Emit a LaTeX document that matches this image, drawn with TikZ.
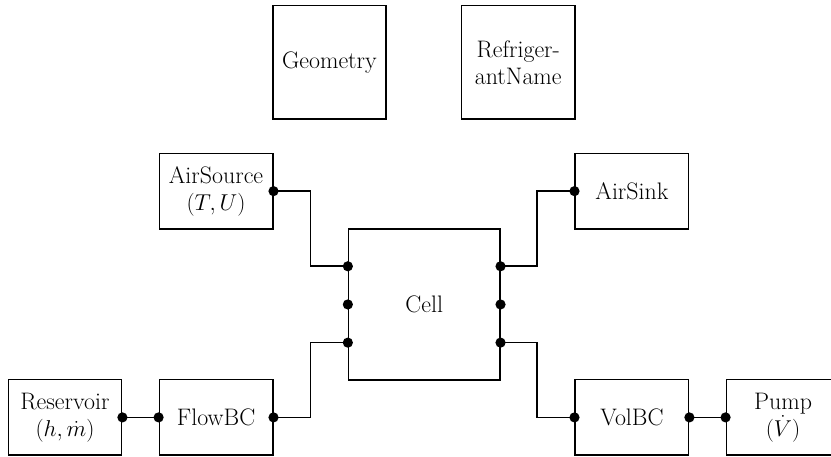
\documentclass[tikz,border=0pt]{standalone}
\usetikzlibrary{calc}
\begin{document}
\begin{tikzpicture}[x=1cm,y=-1cm,
  blk/.style={draw,line width=1.2pt,rectangle,inner sep=0pt,align=center,font=\fontsize{18}{20.5}\selectfont},
  conn/.style={line width=1.2pt},
  port/.style={circle,fill=black,inner sep=0pt,minimum size=0.27cm}]
\useasboundingbox (0,0) rectangle (22,12.09);
\node[blk,minimum width=3cm,minimum height=3cm] (geo) at (8.72,1.65) {Geometry};
\node[blk,minimum width=3cm,minimum height=3cm] (ref) at (13.72,1.65) {Refriger-\\antName};
\node[blk,minimum width=3cm,minimum height=2cm] (src) at (5.72,5.06) {AirSource\\$(T,U)$};
\node[blk,minimum width=3cm,minimum height=2cm] (snk) at (16.73,5.06) {AirSink};
\node[blk,minimum width=4cm,minimum height=4cm] (cell) at (11.23,8.06) {Cell};
\node[blk,minimum width=3cm,minimum height=2cm] (res) at (1.72,11.05) {Reservoir\\$(h,\dot m)$};
\node[blk,minimum width=3cm,minimum height=2cm] (fbc) at (5.72,11.05) {FlowBC};
\node[blk,minimum width=3cm,minimum height=2cm] (vbc) at (16.73,11.05) {VolBC};
\node[blk,minimum width=3cm,minimum height=2cm] (pump) at (20.73,11.05) {Pump\\$(\dot V)$};
% ports
\node[port] (srcR) at (src.east) {};
\node[port] (snkL) at (snk.west) {};
\node[port] (cL1) at ($(cell.north west)!0.25!(cell.south west)$) {};
\node[port] (cL2) at (cell.west) {};
\node[port] (cL3) at ($(cell.north west)!0.75!(cell.south west)$) {};
\node[port] (cR1) at ($(cell.north east)!0.25!(cell.south east)$) {};
\node[port] (cR2) at (cell.east) {};
\node[port] (cR3) at ($(cell.north east)!0.75!(cell.south east)$) {};
\node[port] (resR) at (res.east) {};
\node[port] (fbcL) at (fbc.west) {};
\node[port] (fbcR) at (fbc.east) {};
\node[port] (vbcL) at (vbc.west) {};
\node[port] (vbcR) at (vbc.east) {};
\node[port] (pumpL) at (pump.west) {};
% connectors
\coordinate (xl) at (8.22,0);
\coordinate (xr) at (14.22,0);
\draw[conn] (srcR.center) -- (srcR.center -| xl) -- (cL1.center -| xl) -- (cL1.center);
\draw[conn] (fbcR.center) -- (fbcR.center -| xl) -- (cL3.center -| xl) -- (cL3.center);
\draw[conn] (cR1.center) -- (cR1.center -| xr) -- (snkL.center -| xr) -- (snkL.center);
\draw[conn] (cR3.center) -- (cR3.center -| xr) -- (vbcL.center -| xr) -- (vbcL.center);
\draw[conn] (resR.center) -- (fbcL.center);
\draw[conn] (vbcR.center) -- (pumpL.center);
\end{tikzpicture}
\end{document}
